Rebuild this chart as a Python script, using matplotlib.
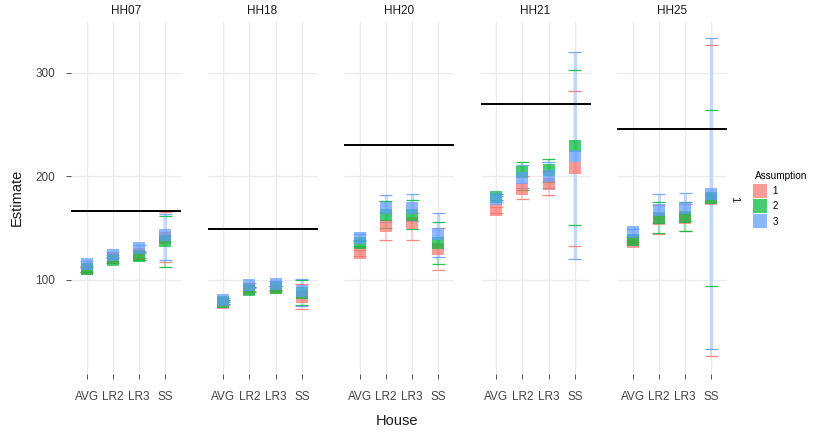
import numpy as np
import matplotlib
matplotlib.use("Agg")
import matplotlib.pyplot as plt
from matplotlib.lines import Line2D
from matplotlib.colors import to_rgb

plt.rcParams["font.family"] = ["Liberation Sans", "DejaVu Sans"]

# ---------------------------------------------------------------------------
# Data
# ---------------------------------------------------------------------------
houses = ["HH07", "HH18", "HH20", "HH21", "HH25"]
methods = ["AVG", "LR2", "LR3", "SS"]
assumptions = ["1", "2", "3"]
truth = [167, 149, 230, 270, 246]          # horizontal reference line per house

# estimate per house (rows) x method (cols)
est_1 = [[110.5, 121, 125, 141], [78, 91, 92, 84], [126, 152, 155, 130],
         [168, 188, 193, 208], [137, 159, 160, 178]]
lo_1 = [[108, 118, 121, 117], [76, 89, 90, 72], [123, 139, 139, 110],
        [165, 178, 182, 133], [135, 144, 147, 27]]
hi_1 = [[113, 124, 128, 166], [80, 93, 94, 96], [129, 165, 165, 150],
        [171, 200, 205, 283], [139, 172, 173, 327]]

est_2 = [[111, 119, 123, 138], [79, 90, 92, 87], [136, 163, 163, 136],
         [180, 204, 206, 229], [139, 160, 161, 179]]
lo_2 = [[108, 116, 119, 113], [77, 88, 89, 76], [133, 150, 149, 115],
        [177, 187, 195, 153], [137, 145, 147, 94]]
hi_2 = [[114, 122, 126, 162], [81, 93, 94, 100], [139, 176, 177, 156],
        [183, 214, 217, 303], [142, 175, 175, 264]]

est_3 = [[115, 124, 131, 143], [81, 95, 96, 89], [141, 170, 170, 144],
         [178, 199, 200, 220], [146, 168, 170, 183]]
lo_3 = [[112, 121, 127, 119], [79, 92, 94, 75], [138, 156, 157, 122],
        [175, 189, 189, 120], [143, 155, 157, 33]]
hi_3 = [[118, 127, 134, 164], [83, 97, 99, 101], [144, 182, 183, 165],
        [181, 211, 214, 320], [149, 183, 184, 334]]

series = [(est_1, lo_1, hi_1), (est_2, lo_2, hi_2), (est_3, lo_3, hi_3)]
colors = ["#F8766D", "#00BA38", "#619CFF"]


def lighten(c, a):
    r = np.array(to_rgb(c))
    return tuple(1 - a * (1 - r))


# ---------------------------------------------------------------------------
# Figure
# ---------------------------------------------------------------------------
W, H = 813, 433
fig = plt.figure(figsize=(W / 100, H / 100), dpi=100, facecolor="white")

px_left = [71, 207.5, 344, 480.5, 617]
p_w, p_top, p_bot = 110, 22, 374
grid_c = "#EBEBEB"
txt_c = "#444444"
x = np.arange(1, len(methods) + 1)

for i, hh in enumerate(houses):
    ax = fig.add_axes([px_left[i] / W, 1 - p_bot / H, p_w / W, (p_bot - p_top) / H])
    ax.set_xlim(0.4, 4.6)
    ax.set_ylim(300 - (p_bot - 73) / 1.035, 300 + (73 - p_top) / 1.035)
    for s in ax.spines.values():
        s.set_visible(False)
    ax.set_xticks(x)
    ax.set_xticklabels(methods, fontsize=8.5, color=txt_c)
    ax.set_yticks([100, 200, 300])
    ax.grid(True, color=grid_c, lw=0.9)
    ax.set_axisbelow(True)
    ax.tick_params(axis="both", length=3.5, width=0.6, color="#333333", pad=8)
    ax.tick_params(axis="x", pad=9)
    if i == 0:
        ax.set_yticklabels(["100", "200", "300"], fontsize=8.5, color=txt_c)
    else:
        ax.tick_params(axis="y", left=False, labelleft=False)

    for k, (est, lo, hi) in enumerate(series):
        e, l, h = np.array(est[i]), np.array(lo[i]), np.array(hi[i])
        ax.vlines(x, l, h, color=lighten(colors[k], 0.4), lw=1.2 + 0.6 * k,
                  zorder=2 + 0.1 * k)
        ax.hlines(l, x - 0.25, x + 0.25, color=colors[k], lw=0.9, alpha=0.85, zorder=3 + k)
        ax.hlines(h, x - 0.25, x + 0.25, color=colors[k], lw=0.9, alpha=0.85, zorder=3 + k)
        ax.plot(x, e, "s", color=colors[k], ms=9.3, mew=0, alpha=0.72, zorder=6 + k)

    ax.axhline(truth[i], color="black", lw=1.4, zorder=10)
    ax.set_title(hh, fontsize=8.5, color="#1A1A1A", pad=6)

# axis titles
fig.text(397 / W, 1 - 421 / H, "House", ha="center", va="center", fontsize=10.5, color="#1A1A1A")
fig.text(17 / W, 1 - 197 / H, "Estimate", ha="center", va="center", rotation=90,
         fontsize=10.5, color="#1A1A1A")
# facet row strip
fig.text(734 / W, 1 - 199 / H, "1", ha="center", va="center", rotation=-90,
         fontsize=8, color="#1A1A1A")

# legend
handles = [Line2D([], [], marker="s", ls="", color=c, ms=10, mew=0, alpha=0.72)
           for c in colors]
leg = fig.legend(handles, assumptions, title="Assumption", loc="upper left",
                 bbox_to_anchor=(746 / W, 1 - 162 / H), frameon=False,
                 fontsize=7, title_fontsize=7.2, handlelength=1.0,
                 handletextpad=0.8, labelspacing=0.55, alignment="left")

fig.savefig("out.png", dpi=100, facecolor="white")
